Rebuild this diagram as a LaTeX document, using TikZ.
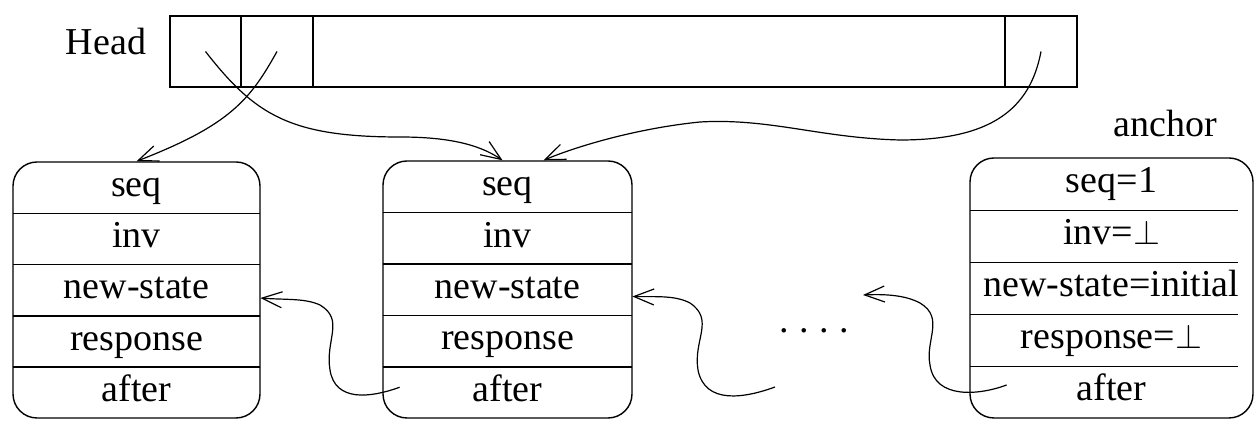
\documentclass[tikz,border=0pt]{standalone}
\usepackage{fontspec}
\setmainfont{Liberation Serif}
\usetikzlibrary{arrows.meta}
\tikzset{
  lbl/.style={font=\fontsize{19}{22}\selectfont, inner sep=0pt},
  cellbox/.style={draw, line width=0.7pt, inner sep=0pt, minimum height=35.5pt},
  recbox/.style={draw, line width=0.7pt, rounded corners=12pt, inner sep=0pt},
  rowcell/.style={lbl, minimum height=25.6pt, text height=13pt, text depth=4pt},
  sepline/.style={line width=0.7pt},
  ptr/.style={line width=0.6pt, -{Straight Barb[length=10pt,width=8pt]}},
}
\begin{document}
\begin{tikzpicture}[x=0.5pt,y=-0.5pt]
\useasboundingbox (0,0) rectangle (1255,421);

% Head array
\node[lbl] (head) at (106,42) {Head};
\node[cellbox, minimum width=35.5pt] (c1) at (205.5,51.5) {};
\node[cellbox, minimum width=36pt] (c2) at (277,51.5) {};
\node[cellbox, minimum width=346pt] (c3) at (659,51.5) {};
\node[cellbox, minimum width=36pt] (c4) at (1041,51.5) {};

% record 1
\node[recbox, minimum width=123.5pt, minimum height=128pt] (b1) at (136.5,290) {};
\node[rowcell, minimum width=123.5pt] (b1r1) at (136.5,187.6) {seq};
\node[rowcell, minimum width=123.5pt] (b1r2) at (136.5,238.8) {inv};
\node[rowcell, minimum width=123.5pt] (b1r3) at (136.5,290) {new-state};
\node[rowcell, minimum width=123.5pt] (b1r4) at (136.5,341.2) {response};
\node[rowcell, minimum width=123.5pt] (b1r5) at (136.5,392.4) {after};
\foreach \r in {1,2,3,4}{\draw[sepline] (b1r\r.south west) -- (b1r\r.south east);}

% record 2
\node[recbox, minimum width=124.5pt, minimum height=128.5pt] (b2) at (507.5,289.5) {};
\node[rowcell, minimum width=124.5pt] (b2r1) at (507.5,186.7) {seq};
\node[rowcell, minimum width=124.5pt] (b2r2) at (507.5,238.1) {inv};
\node[rowcell, minimum width=124.5pt] (b2r3) at (507.5,289.5) {new-state};
\node[rowcell, minimum width=124.5pt] (b2r4) at (507.5,340.9) {response};
\node[rowcell, minimum width=124.5pt] (b2r5) at (507.5,392.3) {after};
\foreach \r in {1,2,3,4}{\draw[sepline] (b2r\r.south west) -- (b2r\r.south east);}

% anchor record
\node[lbl, anchor=base] (anchorlbl) at (1165,137) {anchor};
\node[recbox, minimum width=141.5pt, minimum height=130pt] (b3) at (1111.5,288) {};
\node[rowcell, minimum width=141.5pt, minimum height=26pt] (b3r1) at (1111.5,184) {seq=1};
\node[rowcell, minimum width=141.5pt, minimum height=26pt] (b3r2) at (1111.5,236) {inv=$\perp$};
\node[rowcell, minimum width=141.5pt, minimum height=26pt] (b3r3) at (1111.5,288) {new-state=initial};
\node[rowcell, minimum width=141.5pt, minimum height=26pt] (b3r4) at (1111.5,340) {response=$\perp$};
\node[rowcell, minimum width=141.5pt, minimum height=26pt] (b3r5) at (1111.5,392) {after};
\foreach \r in {1,2,3,4}{\draw[sepline] (b3r\r.south west) -- ([xshift=-7.5pt]b3r\r.south east);}

% dots
\node[lbl, anchor=base] (dots) at (814,333) {.\hspace{5.3pt}.\hspace{5.3pt}.\hspace{5.3pt}.};

% pointers from head
\draw[ptr] (c1.center) .. controls (255,115) and (290,137) .. (400,137)
  .. controls (450,137) and (480,145) .. ([xshift=-2.5pt]b2.north);
\draw[ptr] (c2.center) .. controls (250,100) and (230,125) .. (b1.north);
\draw[ptr] (c4.center) .. controls (1030,110) and (990,140) .. (900,140)
  .. controls (820,138) and (770,118) .. (700,122)
  .. controls (640,128) and (580,145) .. ([xshift=18pt]b2.north);

% after pointers
\coordinate (free2) at (775,387);
\coordinate (free3) at (863,295);
\draw[ptr] ([xshift=8.5pt,yshift=2.5pt]b2r5.west) .. controls (370,398) and (335,402) .. (330,370)
  .. controls (325,340) and (345,320) .. (320,305)
  .. controls (305,298) and (285,300) .. ([yshift=-4pt]b1r3.east);
\draw[ptr] (free2) .. controls (745,398) and (705,405) .. (698,370)
  .. controls (693,340) and (715,320) .. (690,303)
  .. controls (675,295) and (655,297) .. ([yshift=-3.5pt]b2r3.east);
\draw[ptr] ([xshift=18.5pt,yshift=3.5pt]b3r5.west) .. controls (980,395) and (935,400) .. (930,365)
  .. controls (925,340) and (945,318) .. (920,303)
  .. controls (905,295) and (885,294) .. (free3);
\end{tikzpicture}
\end{document}
